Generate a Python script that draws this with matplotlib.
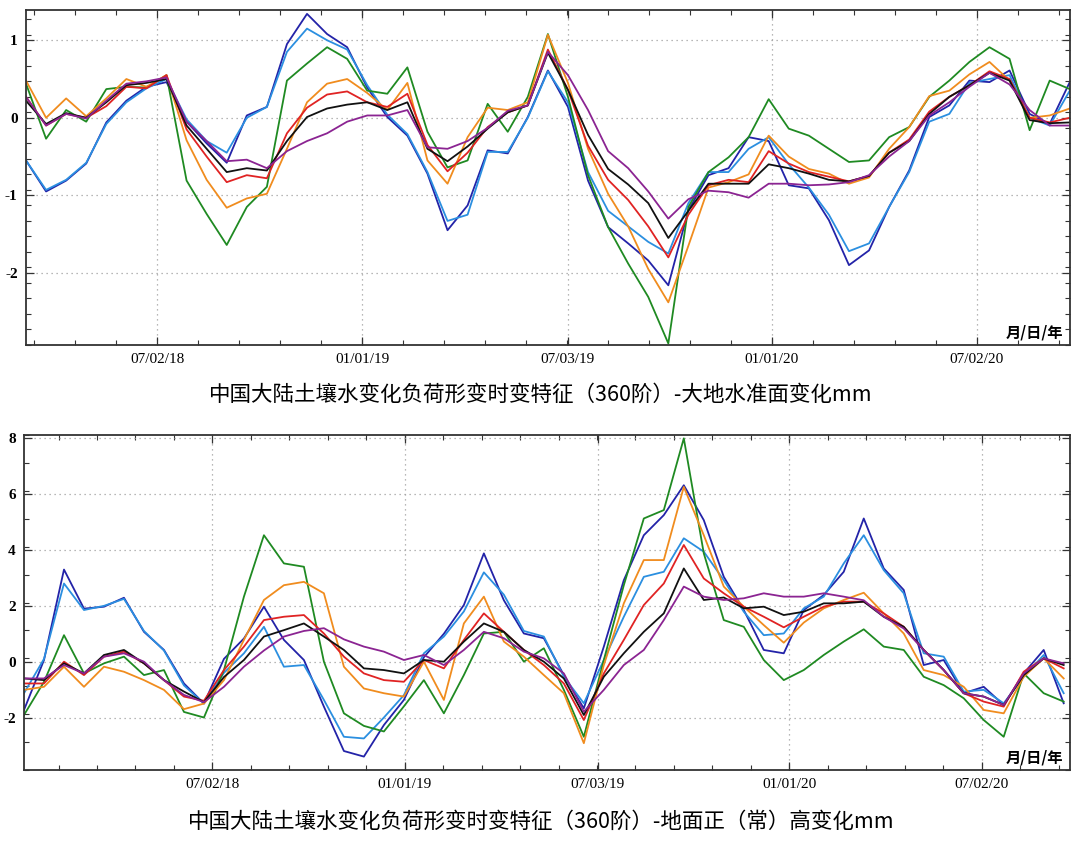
# soil water loading deformation time series (360 degree) - two panels
import numpy as np
import pandas as pd
import matplotlib
matplotlib.use("Agg")
import matplotlib.pyplot as plt
import matplotlib.dates as mdates

plt.rcParams['axes.unicode_minus'] = False

# ---- data: values, one value per sample date ----
# top panel: geoid change (mm), samples every ~17.9 days from 2018-03-07
top_start = '2018-03-07'
top_step = 17.9
geoid_db = [-0.55, -0.95, -0.81, -0.59, -0.06, 0.22, 0.40, 0.46, -0.05, -0.33, -0.58, 0.03, 0.14, 0.95, 1.34, 1.08,
            0.91, 0.39, 0.01, -0.23, -0.72, -1.45, -1.13, -0.42, -0.46, 0.01, 0.61, 0.14, -0.81, -1.41, -1.62, -1.84,
            -2.16, -1.19, -0.74, -0.65, -0.25, -0.30, -0.87, -0.91, -1.32, -1.90, -1.71, -1.15, -0.68, 0.01, 0.16,
            0.48, 0.46, 0.61, 0.05, -0.08, 0.46]
geoid_lb = [-0.55, -0.93, -0.80, -0.58, -0.08, 0.20, 0.38, 0.50, -0.02, -0.30, -0.45, 0.00, 0.14, 0.85, 1.15, 1.00,
            0.88, 0.42, 0.04, -0.21, -0.70, -1.33, -1.25, -0.44, -0.44, 0.00, 0.60, 0.20, -0.70, -1.20, -1.40, -1.60,
            -1.75, -1.10, -0.70, -0.70, -0.40, -0.25, -0.60, -0.90, -1.25, -1.72, -1.62, -1.15, -0.70, -0.05, 0.05,
            0.45, 0.50, 0.55, 0.00, -0.10, 0.35]
geoid_green = [0.44, -0.27, 0.10, -0.05, 0.37, 0.40, 0.39, 0.55, -0.81, -1.24, -1.64, -1.15, -0.89, 0.48, 0.70, 0.91,
               0.76, 0.35, 0.31, 0.65, -0.18, -0.64, -0.55, 0.18, -0.18, 0.27, 1.08, 0.27, -0.74, -1.41, -1.88, -2.31,
               -2.91, -1.15, -0.70, -0.51, -0.25, 0.24, -0.14, -0.23, -0.40, -0.57, -0.55, -0.25, -0.12, 0.27, 0.48,
               0.72, 0.91, 0.76, -0.16, 0.48, 0.37]
geoid_orange = [0.48, 0.00, 0.25, 0.02, 0.25, 0.50, 0.40, 0.55, -0.29, -0.80, -1.16, -1.04, -0.98, -0.40, 0.20, 0.44,
                0.50, 0.32, 0.10, 0.45, -0.55, -0.85, -0.25, 0.13, 0.10, 0.20, 1.07, 0.45, -0.40, -0.98, -1.40, -1.95,
                -2.38, -1.65, -0.90, -0.83, -0.73, -0.23, -0.50, -0.66, -0.72, -0.85, -0.77, -0.40, -0.12, 0.28, 0.35,
                0.56, 0.72, 0.48, 0.00, 0.03, 0.12]
geoid_red = [0.27, -0.10, 0.05, 0.00, 0.15, 0.40, 0.38, 0.55, -0.15, -0.50, -0.83, -0.74, -0.78, -0.20, 0.13, 0.30,
             0.34, 0.20, 0.14, 0.31, -0.35, -0.69, -0.45, -0.12, 0.07, 0.16, 0.88, 0.36, -0.36, -0.80, -1.06, -1.40,
             -1.80, -1.25, -0.87, -0.80, -0.83, -0.43, -0.59, -0.70, -0.76, -0.82, -0.75, -0.45, -0.28, 0.08, 0.27,
             0.42, 0.60, 0.50, 0.00, -0.06, 0.00]
geoid_black = [0.22, -0.08, 0.06, 0.00, 0.20, 0.42, 0.45, 0.50, -0.10, -0.40, -0.70, -0.65, -0.68, -0.30, 0.01, 0.12,
               0.17, 0.20, 0.10, 0.20, -0.40, -0.56, -0.37, -0.14, 0.07, 0.16, 0.84, 0.36, -0.22, -0.66, -0.86, -1.10,
               -1.55, -1.20, -0.85, -0.85, -0.85, -0.60, -0.65, -0.72, -0.80, -0.82, -0.75, -0.45, -0.30, 0.05, 0.27,
               0.42, 0.58, 0.48, -0.03, -0.07, -0.06]
geoid_purple = [0.27, -0.10, 0.05, -0.01, 0.22, 0.44, 0.47, 0.52, -0.05, -0.30, -0.56, -0.54, -0.65, -0.43, -0.30, -0.20,
                -0.05, 0.03, 0.03, 0.10, -0.38, -0.40, -0.30, -0.13, 0.09, 0.16, 0.85, 0.55, 0.10, -0.43, -0.65, -0.95,
                -1.30, -1.05, -0.94, -0.96, -1.03, -0.85, -0.85, -0.87, -0.86, -0.83, -0.74, -0.50, -0.30, 0.03, 0.20,
                0.40, 0.58, 0.43, 0.10, -0.10, -0.10]

# bottom panel: ground height change (mm), samples every ~19 days from 2018-01-04
bot_start = '2018-01-04'
bot_step = 19.0
height_db = [-1.73, 0.06, 3.30, 1.90, 1.97, 2.29, 1.07, 0.42, -0.78, -1.50, 0.10, 0.83, 1.97, 0.78, 0.06, -1.61,
             -3.20, -3.40, -2.27, -1.37, 0.16, 1.00, 2.03, 3.88, 2.20, 1.01, 0.84, -0.48, -1.67, 0.54, 2.92, 4.53,
             5.25, 6.32, 5.07, 3.04, 1.85, 0.42, 0.30, 1.85, 2.39, 3.22, 5.13, 3.34, 2.57, -0.12, 0.06, -1.13, -0.90,
             -1.55, -0.42, 0.42, -1.49]
height_lb = [-1.13, 0.10, 2.80, 1.85, 2.00, 2.25, 1.10, 0.40, -0.85, -1.50, -0.40, 0.30, 1.25, -0.18, -0.12, -1.37,
             -2.69, -2.75, -2.00, -1.20, 0.30, 0.90, 1.80, 3.20, 2.40, 1.10, 0.90, -0.54, -1.49, 0.06, 1.61, 3.04,
             3.22, 4.42, 3.94, 2.92, 1.79, 0.95, 1.01, 1.91, 2.33, 3.52, 4.53, 3.28, 2.45, 0.30, 0.18, -1.07, -1.01,
             -1.49, -0.54, 0.24, -1.13]
height_green = [-1.91, -0.72, 0.95, -0.42, -0.06, 0.18, -0.48, -0.30, -1.80, -2.00, -0.30, 2.33, 4.53, 3.52, 3.40, 0.00,
                -1.85, -2.30, -2.50, -1.60, -0.66, -1.85, -0.48, 1.01, 1.07, 0.00, 0.48, -1.01, -2.69, 0.06, 2.74, 5.13,
                5.43, 8.00, 3.88, 1.49, 1.25, 0.06, -0.66, -0.30, 0.24, 0.72, 1.16, 0.54, 0.42, -0.54, -0.84, -1.31,
                -2.09, -2.69, -0.42, -1.13, -1.43]
height_orange = [-1.01, -0.90, -0.18, -0.90, -0.18, -0.36, -0.66, -1.01, -1.70, -1.50, -0.66, 0.78, 2.21, 2.74, 2.86,
                 2.45, -0.18, -0.96, -1.13, -1.25, 0.00, -1.37, 1.37, 2.33, 0.72, 0.18, -0.48, -1.13, -2.92, -0.12, 2.09,
                 3.64, 3.64, 6.26, 4.53, 2.69, 1.97, 1.31, 0.68, 1.40, 1.91, 2.21, 2.47, 1.73, 1.01, -0.30, -0.48, -0.90,
                 -1.73, -1.85, -0.54, 0.12, -0.60]
height_red = [-0.78, -0.78, 0.00, -0.48, 0.18, 0.36, -0.06, -0.66, -1.25, -1.40, -0.30, 0.54, 1.49, 1.61, 1.67, 1.01,
              0.18, -0.42, -0.66, -0.72, 0.06, -0.24, 0.78, 1.73, 1.07, 0.42, -0.12, -0.78, -2.09, -0.42, 0.78, 2.03,
              2.80, 4.18, 2.98, 2.45, 1.97, 1.61, 1.23, 1.61, 1.97, 2.15, 2.15, 1.73, 1.25, 0.42, -0.30, -1.13, -1.43,
              -1.61, -0.36, 0.12, -0.24]
height_black = [-0.60, -0.66, -0.06, -0.42, 0.24, 0.42, -0.06, -0.66, -1.07, -1.45, -0.55, 0.06, 0.90, 1.13, 1.37, 0.90,
                0.42, -0.24, -0.30, -0.42, 0.06, 0.00, 0.72, 1.37, 1.07, 0.42, 0.00, -0.60, -1.91, -0.54, 0.30, 1.07,
                1.73, 3.34, 2.21, 2.30, 1.91, 1.97, 1.67, 1.79, 2.09, 2.09, 2.15, 1.61, 1.25, 0.42, -0.30, -1.13, -1.25,
                -1.55, -0.48, 0.12, -0.12]
height_purple = [-0.60, -0.60, -0.12, -0.42, 0.18, 0.30, 0.00, -0.66, -1.19, -1.45, -0.90, -0.18, 0.40, 0.90, 1.10, 1.20,
                 0.80, 0.54, 0.36, 0.06, 0.24, -0.12, 0.42, 1.07, 0.84, 0.36, 0.12, -0.42, -1.79, -1.01, -0.12, 0.42,
                 1.49, 2.69, 2.33, 2.21, 2.27, 2.45, 2.33, 2.33, 2.45, 2.33, 2.20, 1.61, 1.19, 0.42, -0.30, -1.13, -1.25,
                 -1.55, -0.42, 0.12, -0.06]

# line colours, drawn in this order
colors = ['#2323a8', '#2b8fe0', '#1f8a22', '#f08c1e', '#e02323', '#111111', '#8b2492']

top_series = [geoid_db, geoid_lb, geoid_green, geoid_orange, geoid_red, geoid_black, geoid_purple]
bot_series = [height_db, height_lb, height_green, height_orange, height_red, height_black, height_purple]

top_ticks = ['2018-07-02', '2019-01-01', '2019-07-03', '2020-01-01', '2020-07-02']
top_end = '2020-09-23'
bot_end = '2020-09-24'

cjk = ['Noto Sans CJK SC', 'DejaVu Sans']
serif = 'Liberation Serif'


def style_axes(ax, start, end, yticks, ylim, yminor):
    major = mdates.date2num(pd.to_datetime(top_ticks))
    step = (major[-1] - major[0]) / 4 / 5
    minor = major[0] + step * np.arange(-15, 30)
    ax.set_xticks(major)
    ax.set_xticks(minor, minor=True)
    # limits after the ticks, so the tick lists do not widen the view
    ax.set_xlim(mdates.date2num(pd.Timestamp(start)), mdates.date2num(pd.Timestamp(end)))
    ax.xaxis.set_major_formatter(mdates.DateFormatter('%m/%d/%y'))
    ax.set_yticks(yticks)
    ax.set_yticks(np.arange(ylim[0] - 1, ylim[1] + 1, yminor).round(3), minor=True)
    ax.set_ylim(ylim)
    ax.grid(True, which='major', linestyle=(0, (1, 3)), color='#a0a0a0', linewidth=0.9)
    ax.tick_params(which='both', direction='in', top=True, right=True, colors='#333333',
                   labelcolor='black', labelsize=11, pad=6)
    ax.tick_params(which='major', length=6, width=0.9)
    ax.tick_params(which='minor', length=3.5, width=0.8)
    for lab in ax.get_xticklabels() + ax.get_yticklabels():
        lab.set_family(serif)
    for lab in ax.get_yticklabels():
        lab.set_fontweight('bold')
    for sp in ax.spines.values():
        sp.set_color('#333333')
        sp.set_linewidth(1.3)
    ax.text(0.993, 0.012, '月/日/年', transform=ax.transAxes, ha='right', va='bottom',
            fontsize=11, fontweight='bold', family=cjk)


fig = plt.figure(figsize=(10.8, 8.48), dpi=100)

# top panel
ax1 = fig.add_axes([26 / 1080, 1 - 345 / 848, 1044 / 1080, 335 / 848])
x_top = mdates.date2num(pd.Timestamp(top_start)) + top_step * np.arange(len(geoid_db))
for vals, c in zip(top_series, colors):
    ax1.plot(x_top, vals, color=c, linewidth=1.3)
style_axes(ax1, top_start, top_end, [-2, -1, 0, 1], (-2.93, 1.39), 0.2)

# bottom panel
ax2 = fig.add_axes([24 / 1080, 1 - 770 / 848, 1046 / 1080, 335 / 848])
x_bot = mdates.date2num(pd.Timestamp(bot_start)) + bot_step * np.arange(len(height_db))
for vals, c in zip(bot_series, colors):
    ax2.plot(x_bot, vals, color=c, linewidth=1.3)
style_axes(ax2, bot_start, bot_end, [-2, 0, 2, 4, 6, 8], (-3.88, 8.12), 1)

# captions under each panel
fig.text(541 / 1080, 1 - 395 / 848, '中国大陆土壤水变化负荷形变时变特征（360阶）-大地水准面变化mm',
         ha='center', va='center', fontsize=15.5, family=cjk)
fig.text(541 / 1080, 1 - 822 / 848, '中国大陆土壤水变化负荷形变时变特征（360阶）-地面正（常）高变化mm',
         ha='center', va='center', fontsize=15.5, family=cjk)

plt.savefig('out.png', dpi=100)
